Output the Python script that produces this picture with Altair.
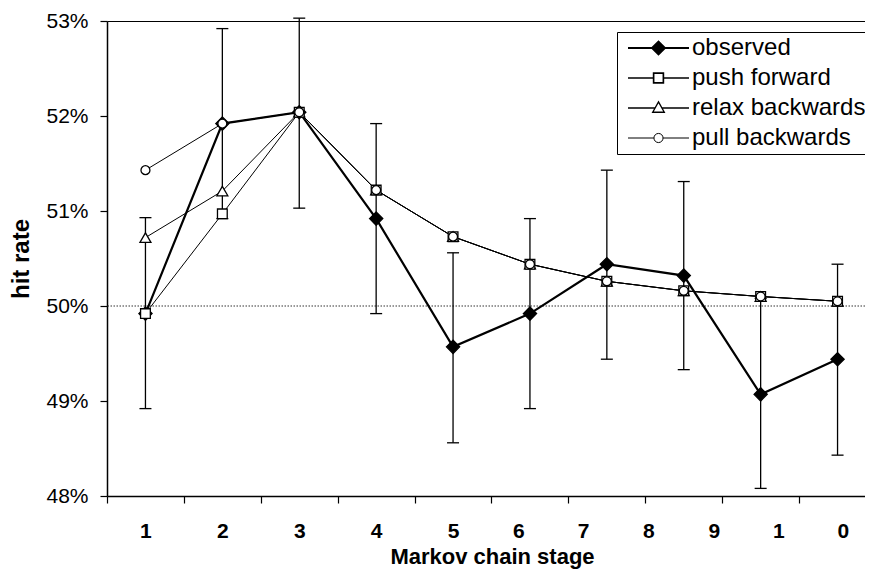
import json
import altair as alt
import pandas as pd

# ---------------- data ----------------
stages = [1, 2, 3, 4, 5, 6, 7, 8, 9, 10]
observed = [49.92, 51.92, 52.04, 50.92, 49.57, 49.92, 50.44, 50.32, 49.07, 49.44]
observed_lo = [48.92, 50.92, 51.03, 49.92, 48.56, 48.92, 49.44, 49.33, 48.08, 48.43]
observed_hi = [50.93, 52.92, 53.03, 51.92, 50.56, 50.92, 51.43, 51.31, 50.08, 50.44]
push_forward = [49.92, 50.97, 52.04, 51.22, 50.73, 50.44, 50.26, 50.16, 50.10, 50.05]
relax_backwards = [50.72, 51.21, 52.04, 51.22, 50.73, 50.44, 50.26, 50.16, 50.10, 50.05]
pull_backwards = [51.43, 51.92, 52.04, 51.22, 50.73, 50.44, 50.26, 50.16, 50.10, 50.05]

series_names = ["observed", "push forward", "relax backwards", "pull backwards"]
y_tick_values = [48, 49, 50, 51, 52, 53]
x_tick_label_text = ["1", "2", "3", "4", "5", "6", "7", "8", "9", "1", "0"]
x_tick_label_pos = [1, 2, 3, 4, 5, 5.85, 6.69, 7.54, 8.39, 9.23, 10.07]
x_category_bounds = [0.5, 1.5, 2.5, 3.5, 4.5, 5.5, 6.5, 7.5, 8.5, 9.5]
reference_level = [50]

# ---------------- tables ----------------
rows = []
for name, vals in zip(series_names, [observed, push_forward, relax_backwards, pull_backwards]):
    for s, v in zip(stages, vals):
        rows.append({"stage": s, "series": name, "value": v})
df = pd.DataFrame(rows)
err = pd.DataFrame({"stage": stages, "lo": observed_lo, "hi": observed_hi})
ref = pd.DataFrame({"level": reference_level})

FONT = "Liberation Sans"
X_SCALE = alt.Scale(domain=[0.5, 10.357], nice=False, zero=False)
Y_SCALE = alt.Scale(domain=[48, 53], nice=False, zero=False)

y_axis = alt.Axis(
    values=y_tick_values, labelExpr="datum.value + '%'", title="hit rate",
    grid=False, domain=True, domainColor="black", domainWidth=1.5,
    ticks=True, tickSize=7, tickColor="black", tickWidth=1.2,
    labelFont=FONT, labelFontSize=21, labelFontWeight="normal", labelColor="black",
    labelPadding=12,
    titleFont=FONT, titleFontSize=24, titleFontWeight="bold", titleColor="black",
    titlePadding=12,
)

tick_axis = alt.Axis(
    values=x_category_bounds, labels=False, title=None, grid=False,
    domain=True, domainColor="black", domainWidth=1.5,
    ticks=True, tickSize=7, tickColor="black", tickWidth=1.2,
)

label_expr = "{}[indexof({}, datum.value)]".format(
    json.dumps(x_tick_label_text), json.dumps(x_tick_label_pos))
label_axis = alt.Axis(
    values=x_tick_label_pos, labelExpr=label_expr, grid=False,
    domain=False, ticks=False, tickSize=0,
    labelFont=FONT, labelFontSize=21, labelFontWeight="bold", labelColor="black",
    labelPadding=24, labelOverlap=False, labelFlush=False,
    title="Markov chain stage", titleFont=FONT, titleFontSize=22,
    titleFontWeight="bold", titleColor="black", titlePadding=5, titleX=385,
)

top_axis = alt.Axis(
    orient="top", labels=False, ticks=False, grid=False, title=None,
    domain=True, domainColor="black", domainWidth=1.2,
)


def X(field, axis=None):
    return alt.X(field, type="quantitative", scale=X_SCALE, axis=axis)


def Y(field):
    return alt.Y(field, type="quantitative", scale=Y_SCALE, axis=y_axis)


ref_rule = alt.Chart(ref).mark_rule(
    color="#333333", strokeWidth=1, strokeDash=[1.5, 1.5]
).encode(y=Y("level"))

err_long = alt.Chart(err).transform_fold(["lo", "hi"], as_=["end", "v"])

err_rule = alt.Chart(err).mark_rule(color="black", strokeWidth=1.3).encode(
    x=X("stage", tick_axis), y=Y("lo"), y2="hi"
)
err_caps = err_long.mark_tick(
    orient="horizontal", size=12, thickness=1.3, color="black", opacity=1
).encode(x=X("stage"), y=Y("v:Q"))

model_lines = alt.Chart(df).transform_filter(
    alt.datum.series != "observed"
).mark_line(color="black", strokeWidth=1).encode(
    x=X("stage", top_axis), y=Y("value"), detail="series:N"
)
obs_line = alt.Chart(df).transform_filter(
    alt.datum.series == "observed"
).mark_line(color="black", strokeWidth=2.2).encode(
    x=X("stage", label_axis), y=Y("value")
)


def pts(name, shape, size, fill):
    return alt.Chart(df).transform_filter(alt.datum.series == name).mark_point(
        shape=shape, size=size, filled=True, fill=fill, stroke="black",
        strokeWidth=1.3, opacity=1
    ).encode(x=X("stage"), y=Y("value"))


obs_pts = pts("observed", "diamond", 175, "black")
relax_pts = pts("relax backwards", "triangle-up", 120, "white")
push_pts = pts("push forward", "square", 95, "white")
pull_pts = pts("pull backwards", "circle", 80, "white")

# legend symbols: line + marker drawn as custom paths
legend_paths = [
    "M-1,0H1M-0.21,0L0,-0.21L0.21,0L0,0.21Z",
    "M-1,0H-0.16M0.16,0H1M-0.16,-0.16H0.16V0.16H-0.16Z",
    "M-1,0H-0.11M0.11,0H1M0,-0.2L0.19,0.14L-0.19,0.14Z",
    "M-1,0H-0.15M0.15,0H1M0.15,0A0.15,0.15,0,1,1,-0.15,0A0.15,0.15,0,1,1,0.15,0Z",
]
LEG = dict(title=None, orient="none", legendX=510, legendY=11)
legend_layer = alt.Chart(df).transform_filter("false").mark_point(
    filled=True, stroke="black", opacity=1, size=3721
).encode(
    x=X("stage"), y=Y("value"),
    fill=alt.Fill("series:N", scale=alt.Scale(domain=series_names,
                  range=["black", "white", "white", "white"]),
                  legend=alt.Legend(**LEG)),
    shape=alt.Shape("series:N", scale=alt.Scale(domain=series_names, range=legend_paths),
                    legend=alt.Legend(**LEG)),
    strokeWidth=alt.StrokeWidth("series:O", scale=alt.Scale(domain=series_names,
                                range=[2, 1, 1, 1]),
                                legend=alt.Legend(**LEG)),
)

chart = alt.layer(
    ref_rule, err_rule, err_caps, model_lines, obs_line,
    obs_pts, relax_pts, push_pts, pull_pts, legend_layer
).resolve_axis(x="independent").properties(
    width=758, height=475,
    autosize=alt.AutoSizeParams(type="none"),
    padding={"left": 99, "top": 13, "right": 0, "bottom": 75},
).configure_view(stroke=None).configure_legend(
    strokeColor="black", fillColor="white", padding=1, symbolOffset=9,
    symbolSize=3721, clipHeight=30, rowPadding=0,
    labelFont=FONT, labelFontSize=24, labelColor="black", labelOffset=2,
    labelFontWeight="normal", labelLimit=400,
)

chart.save("out.html", embed_options={"renderer": "svg", "actions": False})
